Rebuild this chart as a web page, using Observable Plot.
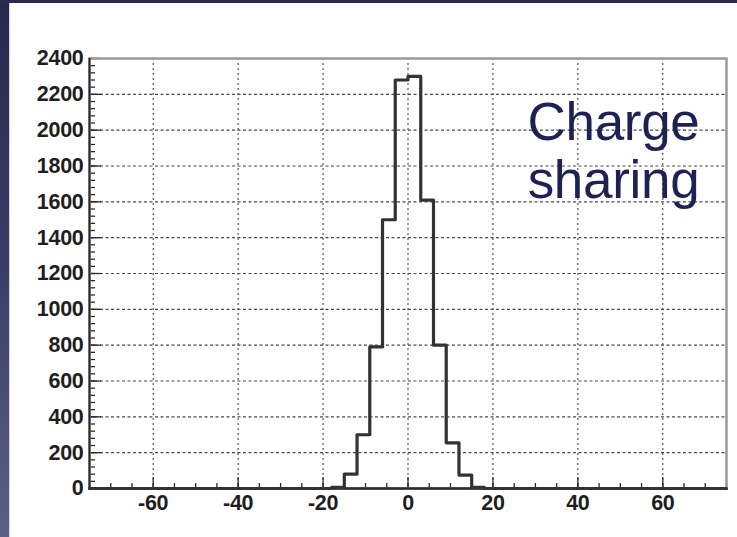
<!DOCTYPE html>
<html><head><meta charset="utf-8">
<script src="https://cdn.jsdelivr.net/npm/d3@7"></script>
<script src="https://cdn.jsdelivr.net/npm/@observablehq/plot@0.6"></script>
<style>
html,body{margin:0;padding:0;background:#fff;}
#wrap{position:relative;width:737px;height:537px;overflow:hidden;background:#fff;}
#chart{position:absolute;left:0;top:0;}
#lstrip{position:absolute;left:0;top:0;width:9px;height:537px;background:linear-gradient(#29274f,#3b3d66 50%,#586286);}
#tstrip{position:absolute;left:0;top:0;width:737px;height:3px;background:#2b2951;}
#lline{position:absolute;left:9px;top:3px;width:1px;height:534px;background:#d4d4dc;}
#chart text{letter-spacing:-0.3px;}
</style></head><body>
<div id="wrap"><div id="chart"></div><div id="lstrip"></div><div id="tstrip"></div><div id="lline"></div></div>
<script>
// Histogram bin edges and counts
const binEdges = [-75, -18, -15, -12, -9, -6, -3, 0, 3, 6, 9, 12, 15, 18, 75];
const counts   = [0, 6, 80, 300, 790, 1500, 2280, 2300, 1610, 800, 255, 75, 6, 0];
const yMajor = [0, 200, 400, 600, 800, 1000, 1200, 1400, 1600, 1800, 2000, 2200, 2400];
const xMajor = [-60, -40, -20, 0, 20, 40, 60];
const yMinor = d3.range(0, 2401, 40);
const xMinor = d3.range(-75, 76, 5);
const annotation = ["Charge\nsharing"];

const steps = binEdges.map((x, i) => ({x, y: counts[Math.min(i, counts.length - 1)]}));

const dark = "#2a2a2a";
const plot = Plot.plot({
  width: 737,
  height: 537,
  marginLeft: 89,
  marginRight: 11,
  marginTop: 58,
  marginBottom: 49,
  style: {background: "transparent", fontFamily: "'Liberation Sans', Arial, sans-serif", color: dark},
  x: {domain: [-75, 75]},
  y: {domain: [0, 2400]},
  marks: [
    Plot.ruleY(yMajor, {stroke: "#4a4a4a", strokeWidth: 1.1, strokeDasharray: "3,2.5"}),
    Plot.ruleX(xMajor, {stroke: "#4a4a4a", strokeWidth: 1.1, strokeDasharray: "2,3"}),
    Plot.axisY({ticks: yMinor, tickSize: 6, dx: 6, fill: "none", label: null, stroke: dark, strokeWidth: 1.3}),
    Plot.axisY({ticks: yMajor, tickSize: 12, dx: 12, fill: "none", label: null, stroke: dark, strokeWidth: 1.3}),
    Plot.axisY({ticks: yMajor, tickSize: 0, tickPadding: 6, label: null, tickFormat: d => String(d), fontSize: 21.5, fontWeight: "bold", fill: "#1e1e1e"}),
    Plot.axisX({ticks: xMinor, tickSize: 5, dy: -5, fill: "none", label: null, stroke: dark, strokeWidth: 1.3}),
    Plot.axisX({ticks: xMajor, tickSize: 11, dy: -11, fill: "none", label: null, stroke: dark, strokeWidth: 1.3}),
    Plot.axisX({ticks: xMajor, tickSize: 0, tickPadding: 6, label: null, tickFormat: d => String(d), fontSize: 21.5, fontWeight: "bold", fill: "#1e1e1e"}),
    Plot.frame({stroke: "#9a9a9a", strokeWidth: 2.5}),
    Plot.ruleX([-75], {stroke: dark, strokeWidth: 2}),
    Plot.ruleY([0], {stroke: dark, strokeWidth: 2.5}),
    Plot.line(steps, {x: "x", y: "y", curve: "step-after", stroke: "#333", strokeWidth: 3.2}),
    Plot.text(annotation, {frameAnchor: "top-right", dx: -113, dy: 40, textAnchor: "middle", lineAnchor: "top", lineHeight: 1.1, fontSize: 53, fill: "#1f2152", fontFamily: "'Liberation Sans', Arial, sans-serif"})
  ]
});
document.getElementById("chart").appendChild(plot);
</script>
</body></html>
